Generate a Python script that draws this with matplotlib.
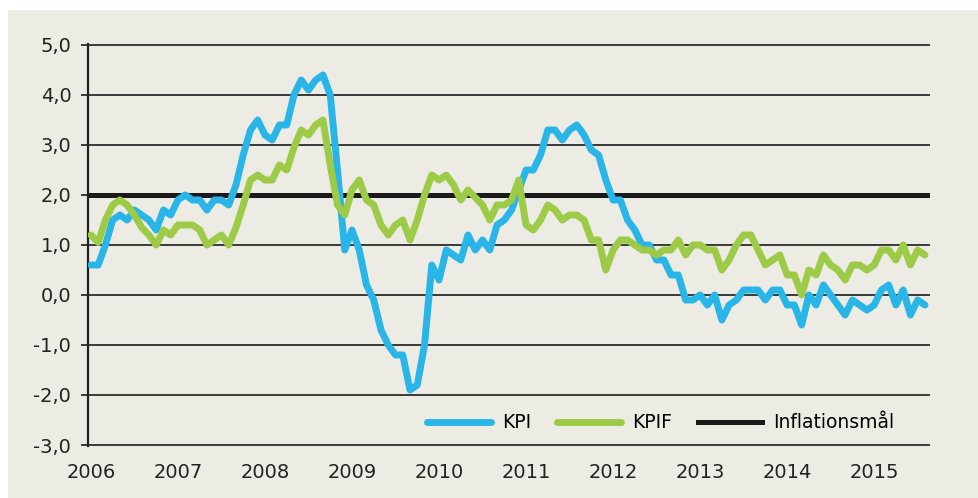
import numpy as np
import matplotlib
matplotlib.use("Agg")
import matplotlib.pyplot as plt
from matplotlib.patches import Rectangle

# -------------------------------
# Data (annual % change, monthly from Jan 2006)
# -------------------------------
kpi = [0.6, 0.6, 1.0, 1.5, 1.6, 1.5, 1.7, 1.6, 1.5, 1.3, 1.7, 1.6,
       1.9, 2.0, 1.9, 1.9, 1.7, 1.9, 1.9, 1.8, 2.2, 2.8, 3.3, 3.5,
       3.2, 3.1, 3.4, 3.4, 4.0, 4.3, 4.1, 4.3, 4.4, 4.0, 2.5, 0.9,
       1.3, 0.9, 0.2, -0.1, -0.7, -1.0, -1.2, -1.2, -1.9, -1.8, -1.0, 0.6,
       0.3, 0.9, 0.8, 0.7, 1.2, 0.9, 1.1, 0.9, 1.4, 1.5, 1.7, 2.1,
       2.5, 2.5, 2.8, 3.3, 3.3, 3.1, 3.3, 3.4, 3.2, 2.9, 2.8, 2.3,
       1.9, 1.9, 1.5, 1.3, 1.0, 1.0, 0.7, 0.7, 0.4, 0.4, -0.1, -0.1,
       0.0, -0.2, 0.0, -0.5, -0.2, -0.1, 0.1, 0.1, 0.1, -0.1, 0.1, 0.1,
       -0.2, -0.2, -0.6, 0.0, -0.2, 0.2, 0.0, -0.2, -0.4, -0.1, -0.2, -0.3,
       -0.2, 0.1, 0.2, -0.2, 0.1, -0.4, -0.1, -0.2]

kpif = [1.2, 1.05, 1.5, 1.8, 1.9, 1.8, 1.6, 1.35, 1.2, 1.0, 1.3, 1.2,
        1.4, 1.4, 1.4, 1.3, 1.0, 1.1, 1.2, 1.0, 1.35, 1.8, 2.3, 2.4,
        2.3, 2.3, 2.6, 2.5, 2.95, 3.3, 3.2, 3.4, 3.5, 2.6, 1.8, 1.6,
        2.1, 2.3, 1.9, 1.8, 1.4, 1.2, 1.4, 1.5, 1.1, 1.5, 2.0, 2.4,
        2.3, 2.4, 2.2, 1.9, 2.1, 1.95, 1.8, 1.5, 1.8, 1.8, 1.9, 2.3,
        1.4, 1.3, 1.5, 1.8, 1.7, 1.5, 1.6, 1.6, 1.5, 1.1, 1.1, 0.5,
        0.9, 1.1, 1.1, 1.0, 0.9, 0.9, 0.8, 0.9, 0.9, 1.1, 0.8, 1.0,
        1.0, 0.9, 0.9, 0.5, 0.7, 1.0, 1.2, 1.2, 0.9, 0.6, 0.7, 0.8,
        0.4, 0.4, 0.0, 0.5, 0.4, 0.8, 0.6, 0.5, 0.3, 0.6, 0.6, 0.5,
        0.6, 0.9, 0.9, 0.7, 1.0, 0.6, 0.9, 0.8]

target = 2.0
years = ['2006', '2007', '2008', '2009', '2010',
         '2011', '2012', '2013', '2014', '2015']
y_ticks = [5, 4, 3, 2, 1, 0, -1, -2, -3]
y_labels = ['5,0', '4,0', '3,0', '2,0', '1,0', '0,0', '-1,0', '-2,0', '-3,0']

months = np.arange(len(kpi))

# -------------------------------
# Figure
# -------------------------------
bg = '#ECEBE4'
blue = '#29B5E8'
green = '#9DCA47'

plt.rcParams['font.family'] = ['DejaVu Sans']

fig = plt.figure(figsize=(9.79, 4.98), dpi=100)
fig.patch.set_facecolor('white')
fig.patches.append(Rectangle((8 / 979, 0), 1, 1 - 10 / 498,
                             transform=fig.transFigure,
                             facecolor=bg, edgecolor='none', zorder=-10))

ax = fig.add_axes([88 / 979, 52 / 498, 842 / 979, 402 / 498])
ax.set_facecolor(bg)

ax.axhline(target, color='#1a1a1a', lw=3.6, zorder=2, label='Inflationsmål')
ax.plot(months, kpi, color=blue, lw=5, solid_joinstyle='round',
        solid_capstyle='round', zorder=3, label='KPI')
ax.plot(months, kpif, color=green, lw=5, solid_joinstyle='round',
        solid_capstyle='round', zorder=4, label='KPIF')

ax.set_xlim(-0.4, 115.7)
ax.set_ylim(-3.02, 5.02)

ax.set_yticks(y_ticks)
ax.set_yticklabels(y_labels)
ax.set_xticks(np.arange(0, 12 * len(years), 12))
ax.set_xticklabels(years)

ax.grid(axis='y', color='#3a3a3a', lw=1.4, zorder=1)
ax.tick_params(axis='y', length=5, width=1.4, color='#3a3a3a',
               pad=7, labelsize=14, labelcolor='#222222')
ax.tick_params(axis='x', length=0, pad=12, labelsize=14, labelcolor='#222222')

for s in ['top', 'right', 'bottom']:
    ax.spines[s].set_visible(False)
ax.spines['left'].set_color('#222222')
ax.spines['left'].set_linewidth(1.6)

handles, labels = ax.get_legend_handles_labels()
order = [1, 2, 0]
leg = ax.legend([handles[i] for i in order], [labels[i] for i in order],
                ncol=3, frameon=False, loc='lower right',
                bbox_to_anchor=(0.978, -0.008), fontsize=13.5,
                handlelength=3.4, columnspacing=1.4, handletextpad=0.6)
for line in leg.get_lines():
    if line.get_label() != 'Inflationsmål':
        line.set_linewidth(5)

plt.savefig('out.png', dpi=100, facecolor=fig.get_facecolor())
